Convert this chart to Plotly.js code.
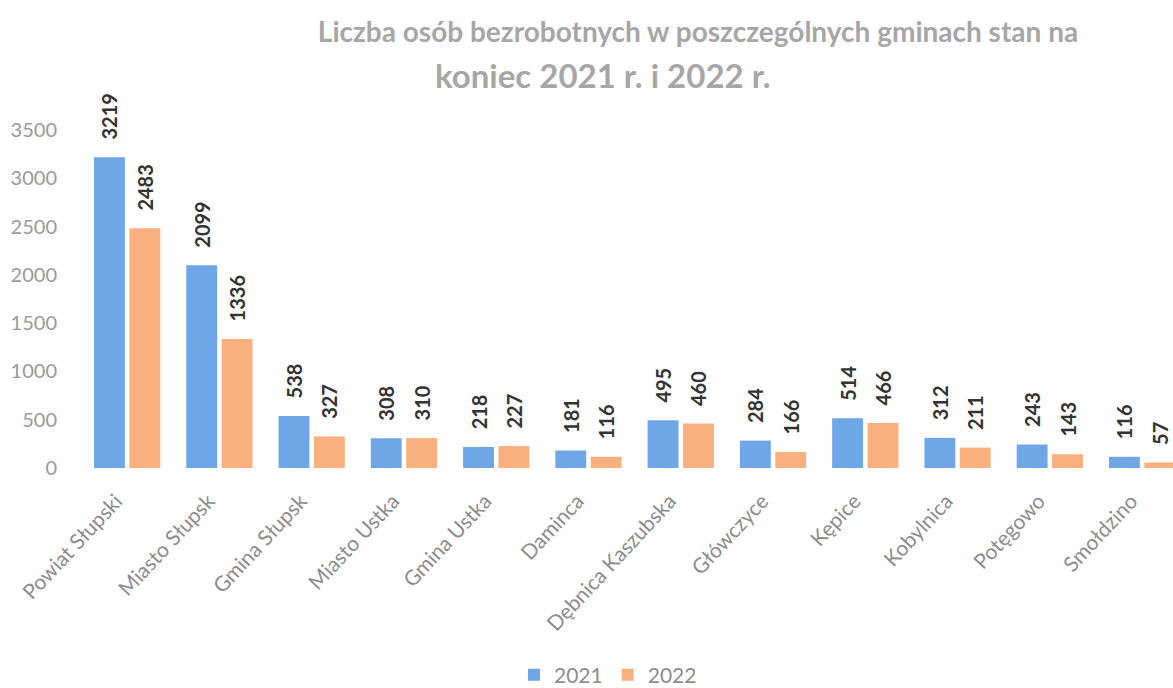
<!DOCTYPE html>
<html>
<head>
<meta charset="utf-8">
<script src="https://cdn.plot.ly/plotly-3.0.1.min.js"></script>
<style>html,body{margin:0;padding:0;background:#fff;}#chart{width:1173px;height:688px;}</style>
</head>
<body>
<div id="chart"></div>
<script>
const categories = ["Powiat Słupski","Miasto Słupsk","Gmina Słupsk","Miasto Ustka","Gmina Ustka","Daminca","Dębnica Kaszubska","Główczyce","Kępice","Kobylnica","Potęgowo","Smołdzino"];
const values2021 = [3219,2099,538,308,218,181,495,284,514,312,243,116];
const values2022 = [2483,1336,327,310,227,116,460,166,466,211,143,57];
const seriesNames = ["2021","2022"];
const yTicks = [0,500,1000,1500,2000,2500,3000,3500];
const titleLine1 = "Liczba osób bezrobotnych w poszczególnych gminach stan na";
const titleLine2 = "koniec 2021 r. i 2022 r.";

const FONT = "Lato, 'Open Sans', sans-serif";
const NB = "\u00a0";
const labelFont = {family: FONT, size: 20, color: "#333333", weight: "bold"};
const pad = s => NB + NB + NB + String(s);

const traces = [
  {type:"bar", name:seriesNames[0], x:categories, y:values2021,
   marker:{color:"#6fa6e8"}, text:values2021.map(pad), textposition:"outside",
   textangle:-90, constraintext:"none", cliponaxis:false, textfont:labelFont, hoverinfo:"skip"},
  {type:"bar", name:seriesNames[1], x:categories, y:values2022,
   marker:{color:"#f9b07e"}, text:values2022.map(pad), textposition:"outside",
   textangle:-90, constraintext:"none", cliponaxis:false, textfont:labelFont, hoverinfo:"skip"}
];

const layout = {
  width:1173, height:688,
  paper_bgcolor:"#ffffff", plot_bgcolor:"#ffffff",
  margin:{l:81, r:0, t:130, b:220},
  barmode:"group", bargap:0.233, bargroupgap:0.127,
  title:{text:titleLine1, x:698/1173, xref:"container", xanchor:"center", y:1-32/688, yanchor:"middle",
         font:{family:FONT, size:28, color:"#a6a6a6", weight:"bold"}},
  annotations:[{text:titleLine2, xref:"paper", yref:"paper", x:(603-81)/1092, y:1+(130-75)/338,
         xanchor:"center", yanchor:"middle", showarrow:false,
         font:{family:FONT, size:33, color:"#a6a6a6", weight:"bold"}}],
  xaxis:{type:"category", range:[-0.5, 11.335], showgrid:false, zeroline:false, showline:false,
         tickvals:categories, ticktext:categories.map(c => c + NB + NB + NB),
         tickangle:-47, tickfont:{family:FONT, size:21, color:"#8c8c8c"}, ticks:"", ticklabelstandoff:4},
  yaxis:{range:[0,3500], tickvals:yTicks, showgrid:false, zeroline:false, showline:false,
         tickfont:{family:FONT, size:20, color:"#9a9a9a"}, ticklabelstandoff:23, ticks:""},
  showlegend:true,
  legend:{orientation:"h", x:608/1173, xref:"container", xanchor:"center", y:(688-675)/688, yref:"container", yanchor:"middle",
          font:{family:FONT, size:21, color:"#8c8c8c"}, itemwidth:30, tracegroupgap:0},
  font:{family:FONT}
};

Plotly.newPlot("chart", traces, layout, {displayModeBar:false, staticPlot:true});
</script>
</body>
</html>
